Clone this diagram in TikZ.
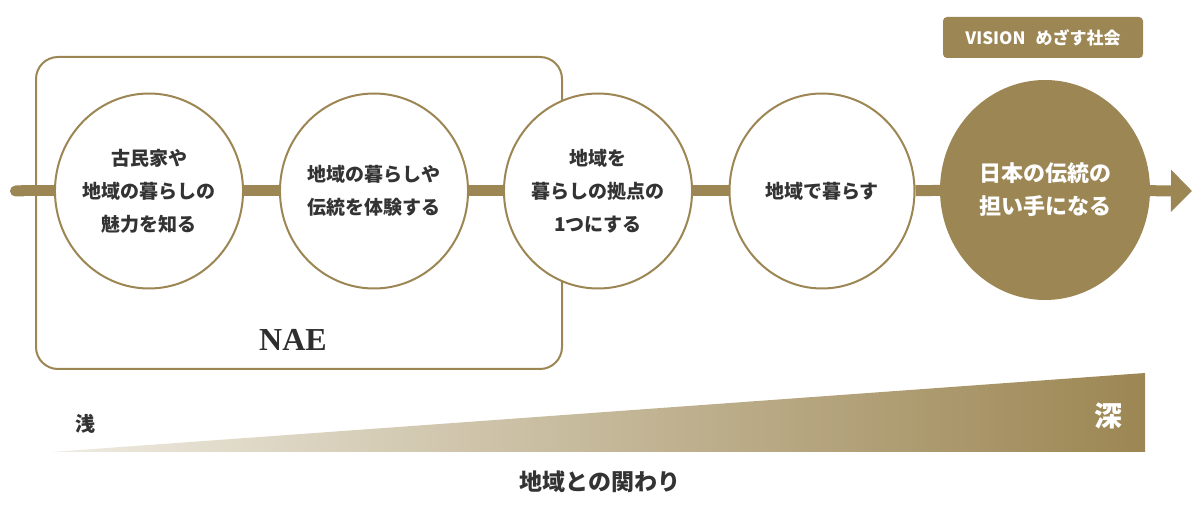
\documentclass[tikz,border=0pt]{standalone}
\usepackage{fontspec}
\setmainfont{Liberation Serif}
\newfontfamily\jp{Noto Sans CJK JP}
\usetikzlibrary{shapes.geometric,arrows.meta}
\definecolor{gold}{HTML}{9C8653}
\definecolor{goldlight}{HTML}{EEEBE1}
\definecolor{ink}{HTML}{333333}
\pgfdeclarelayer{bg}
\pgfsetlayers{bg,main}
\begin{document}
\begin{tikzpicture}[x=1pt,y=-1pt,
  circ/.style={ellipse, draw=gold, line width=2pt, fill=white,
    minimum width=185pt, minimum height=195pt, inner sep=0pt,
    align=center, text=ink, font=\jp\bfseries\fontsize{19}{33}\selectfont},
  fillcirc/.style={ellipse, fill=gold, minimum width=210pt,
    minimum height=220pt, inner sep=0pt, align=center, text=white,
    font=\jp\bfseries\fontsize{22}{33}\selectfont},
  bar/.style={draw=gold, line width=11pt},
  tag/.style={fill=gold, rounded corners=4pt, minimum width=200pt,
    minimum height=41pt, inner sep=0pt, text=white,
    font=\jp\bfseries\fontsize{17}{20}\selectfont},
  frame/.style={draw=gold, line width=2pt, rounded corners=22pt,
    minimum width=526pt, minimum height=312pt, inner sep=0pt},
  lbl/.style={inner sep=0pt, text=ink, font=\jp\bfseries\fontsize{20}{20}\selectfont}]
\useasboundingbox (0,0) rectangle (1200,518);
% gradient wedge
\shade[left color=goldlight, right color=gold] (52,452) -- (1145,452) -- (1145,373) -- cycle;
% NAE frame
\node[frame] (nae) at (299,213) {};
\node[inner sep=0pt, text=ink!90!black, font=\bfseries\fontsize{32}{32}\selectfont] (naelabel) at (293,340) {NAE};
% circles
\node[circ] (c1) at (149,191) {古民家や\\地域の暮らしの\\魅力を知る};
\node[circ] (c2) at (374,191) {地域の暮らしや\\伝統を体験する};
\node[circ] (c3) at (598,191) {地域を\\暮らしの拠点の\\1つにする};
\node[circ] (c4) at (822,191) {地域で暮らす};
\node[fillcirc] (c5) at (1045,190) {日本の伝統の\\担い手になる};
% main line (behind frame and circles)
\coordinate (start) at (10,191);
\coordinate (end) at (1192,191);
\begin{pgfonlayer}{bg}
\draw[bar, {Round Cap[]}-] (start) -- (c1);
\draw[bar] (c1) -- (c2);
\draw[bar] (c2) -- (c3);
\draw[bar] (c3) -- (c4);
\draw[bar] (c4) -- (c5);
\draw[bar, -{Triangle[length=21pt,width=41pt]}] (c5) -- (end);
\end{pgfonlayer}
% vision tag
\node[tag] (vision) at (1043,37.5) {VISION\hspace{10pt}めざす社会};
% axis labels
\node[lbl] (shallow) at (85,424) {浅};
\node[inner sep=0pt, text=white, font=\jp\bfseries\fontsize{28}{28}\selectfont] (deep) at (1108,416) {深};
\node[inner sep=0pt, text=ink, font=\jp\bfseries\fontsize{23}{23}\selectfont] (axis) at (600,482) {地域との関わり};
\end{tikzpicture}
\end{document}
